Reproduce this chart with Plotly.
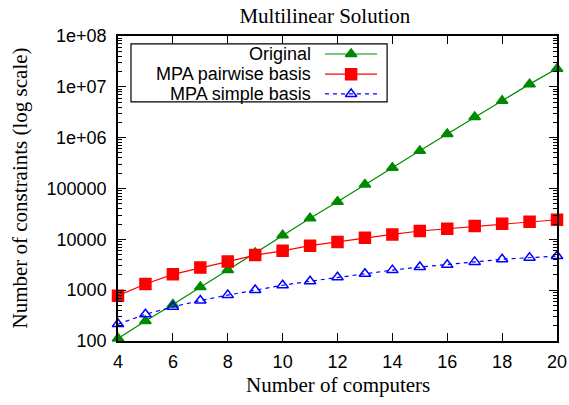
import plotly.graph_objects as go

computers = list(range(4, 21))
original = [112, 247, 520, 1150, 2500, 5400, 12000, 26000, 55000, 120000,
            255000, 550000, 1180000, 2550000, 5300000, 11300000, 22800000]
mpa_pairwise = [780, 1320, 2050, 2780, 3650, 4900, 5950, 7500, 8900, 10800,
                12500, 14600, 16200, 18200, 20300, 22200, 24300]
mpa_simple = [215, 335, 470, 625, 800, 1010, 1250, 1500, 1790, 2100,
              2480, 2850, 3150, 3600, 4050, 4350, 4700]

series_names = ["Original", "MPA pairwise basis", "MPA simple basis"]
series_values = [original, mpa_pairwise, mpa_simple]
colors = ["#008a00", "#ff0000", "#0000ff"]
symbols = ["triangle-up", "square", "triangle-up-open"]
sizes = [10, 11, 10]
dashes = ["solid", "solid", "4px,4px"]
x_ticks = [4, 6, 8, 10, 12, 14, 16, 18, 20]
y_tickvals = [1e2, 1e3, 1e4, 1e5, 1e6, 1e7, 1e8]
y_ticktext = ["100", "1000", "10000", "100000", "1e+06", "1e+07", "1e+08"]

fig = go.Figure()
for name, vals, c, s, sz, d in zip(series_names, series_values, colors, symbols, sizes, dashes):
    fig.add_trace(go.Scatter(
        x=computers, y=vals, mode="lines+markers", name=name,
        line=dict(color=c, width=1.2, dash=d),
        marker=dict(symbol=s, size=sz, color=c, line=dict(color=c, width=1.5)),
        showlegend=False, cliponaxis=False))

# custom gnuplot-style legend (text right-aligned, sample to the right)
row_y = [0.941, 0.875, 0.810]
for name, c, s, sz, d, yy in zip(series_names, colors, symbols, sizes, dashes, row_y):
    fig.add_trace(go.Scatter(
        x=[0.4715, 0.531, 0.59], y=[yy, yy, yy], xaxis="x2", yaxis="y2",
        mode="lines", line=dict(color=c, width=1.2, dash=d),
        showlegend=False, hoverinfo="skip"))
    fig.add_trace(go.Scatter(
        x=[0.531], y=[yy], xaxis="x2", yaxis="y2", mode="markers",
        marker=dict(symbol=s, size=sz, color=c, line=dict(color=c, width=1.5)),
        showlegend=False, hoverinfo="skip"))
    fig.add_annotation(x=0.444, y=yy, xref="paper", yref="paper", text=name,
                       showarrow=False, xanchor="right", yanchor="middle",
                       font=dict(family="Liberation Sans", size=18, color="black"))

fig.add_shape(type="rect", xref="paper", yref="paper", x0=0.0296, x1=0.613,
              y0=0.784, y1=0.974, line=dict(color="black", width=1.2))

sans = dict(family="Liberation Sans", size=18, color="black")
serif = dict(family="Liberation Serif", size=21, color="black")

fig.add_annotation(x=-0.2255, y=0.5, xref="paper", yref="paper",
                   text="Number of constraints (log scale)", textangle=-90,
                   showarrow=False, xanchor="center", yanchor="middle", font=serif)
fig.add_annotation(x=0.5, y=-0.145, xref="paper", yref="paper",
                   text="Number of computers",
                   showarrow=False, xanchor="center", yanchor="middle", font=serif)

fig.update_layout(
    width=569, height=405,
    margin=dict(l=118, r=12, t=36, b=64, autoexpand=False),
    paper_bgcolor="white", plot_bgcolor="white",
    title=dict(text="Multilinear Solution", x=0.571, xanchor="center",
               y=0.962, yanchor="middle", pad=dict(t=0, b=0), font=serif),
    xaxis=dict(range=[4, 20], tickvals=x_ticks, ticks="inside", ticklen=8,
               tickwidth=1, tickcolor="black", mirror="allticks", showline=True,
               linecolor="black", linewidth=1.5, showgrid=False, zeroline=False,
               tickfont=sans, ticklabelstandoff=4, automargin=False,
               ticklabeloverflow="allow"),
    yaxis=dict(type="log", range=[2, 8], tickvals=y_tickvals, ticktext=y_ticktext,
               ticks="inside", ticklen=8, tickwidth=1, tickcolor="black",
               mirror="allticks", showline=True, linecolor="black", linewidth=1.5,
               showgrid=False, zeroline=False, tickfont=sans, ticklabelstandoff=6,
               automargin=False,
               minor=dict(dtick="D1", ticks="inside", ticklen=4, tickcolor="black",
                          showgrid=False)),
    xaxis2=dict(range=[0, 1], overlaying="x", visible=False, domain=[0, 1]),
    yaxis2=dict(range=[0, 1], overlaying="y", visible=False),
)

fig.write_html(
    "out.html",
    config={"displayModeBar": False},
    post_script="document.body.style.margin='0';"
                "document.documentElement.style.overflow='hidden';")
